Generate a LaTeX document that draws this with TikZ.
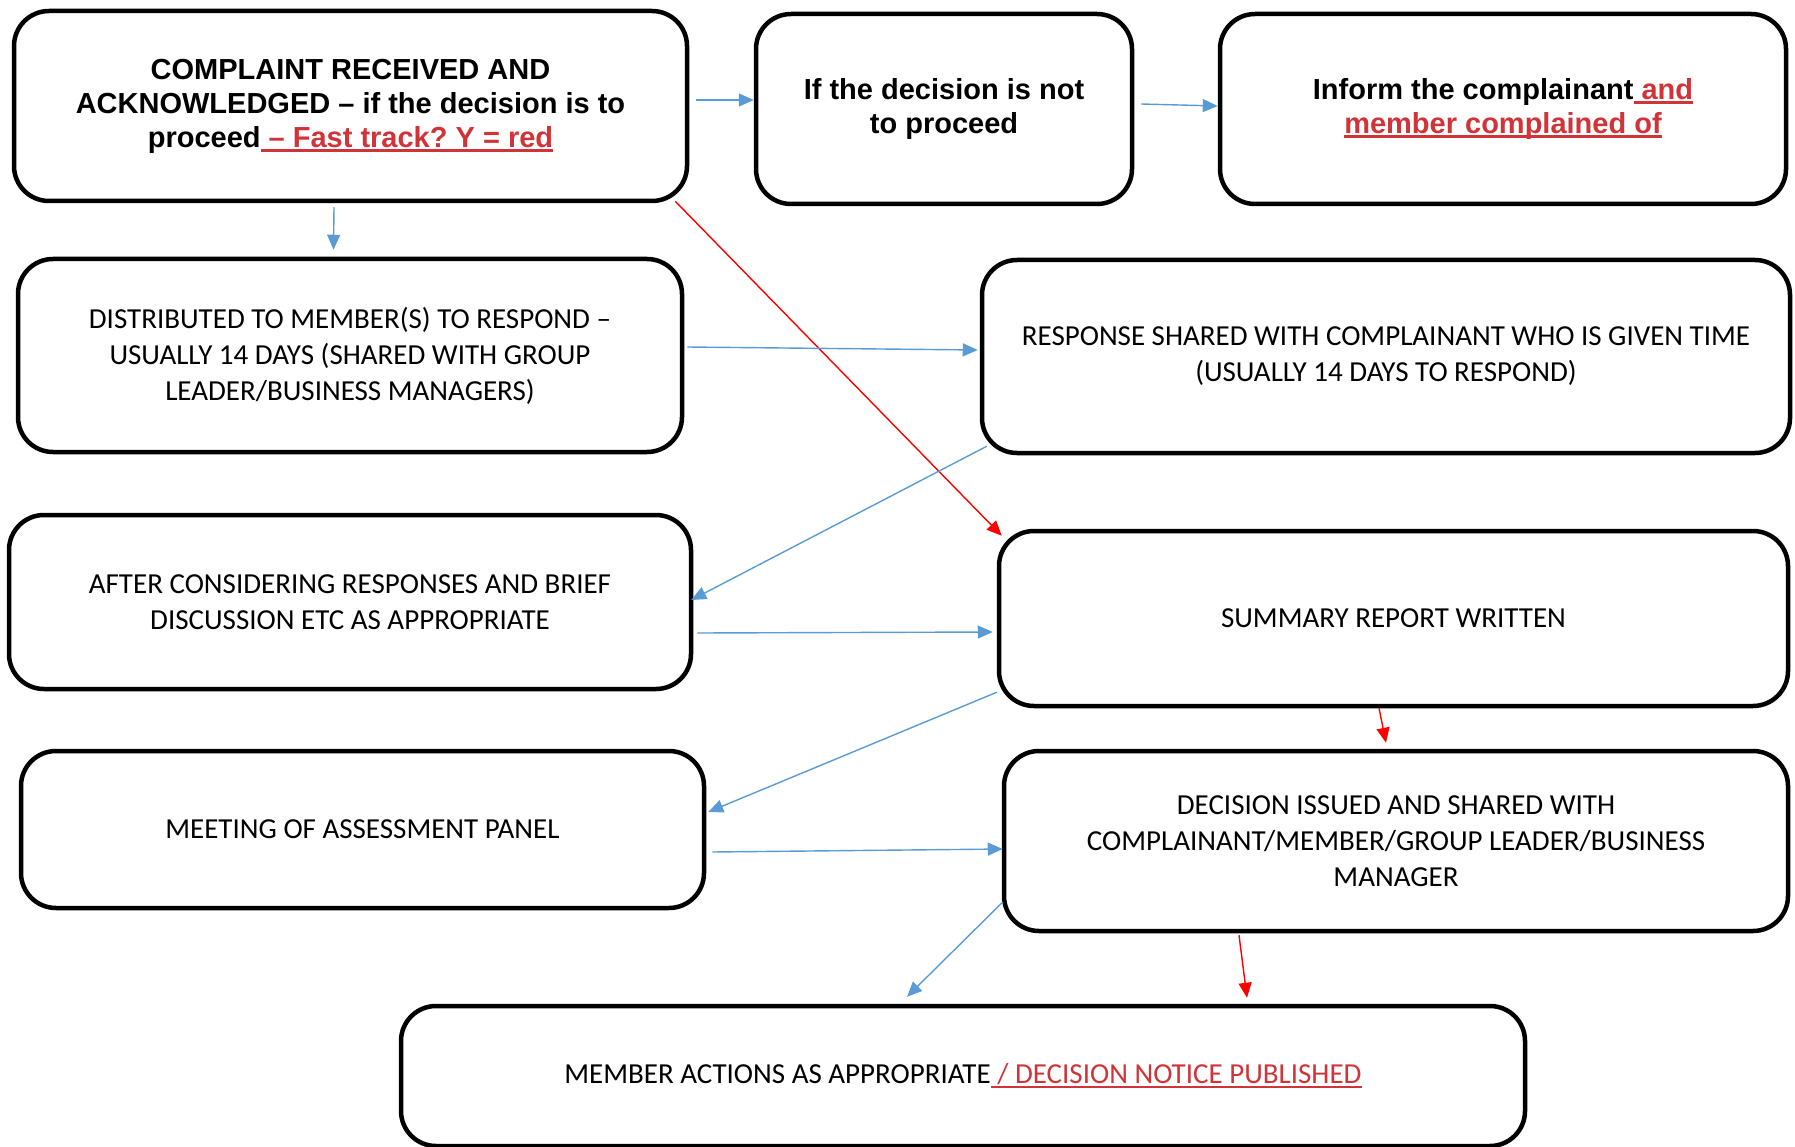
\documentclass[tikz,border=0pt]{standalone}
\usepackage{fontspec}
\setmainfont{Carlito}
\newfontfamily\arialb{Liberation Sans}[UprightFont=*-Bold]
\usetikzlibrary{arrows.meta}
\definecolor{ured}{RGB}{209,52,56}
\definecolor{ablue}{RGB}{91,155,213}
\definecolor{ared}{RGB}{255,0,0}
\frenchspacing
\newcommand\redulb[1]{\textcolor{ured}{\setbox0\hbox{#1}\rlap{\rule[-5pt]{\wd0}{3pt}}\box0}}
\newcommand\redulc[1]{\textcolor{ured}{\setbox0\hbox{#1}\rlap{\rule[-4.5pt]{\wd0}{2pt}}\box0}}
\tikzset{
  box/.style={draw, line width=4.5pt, rounded corners=35pt, fill=white, align=center, inner sep=0pt},
  boldtxt/.style={font=\arialb\fontsize{29}{34}\selectfont},
  plaintxt/.style={font=\fontsize{29}{36}\selectfont},
  barrow/.style={draw=ablue, line width=1.4pt, -{Triangle[length=15pt,width=13pt]}, fill=ablue},
  rarrow/.style={draw=ared, line width=1.4pt, -{Triangle[length=15pt,width=13pt]}, fill=ared},
}
\begin{document}
\begin{tikzpicture}[x=1pt,y=-1pt]
\useasboundingbox (0,0) rectangle (1795,1147);
\node[box, boldtxt, minimum width=673pt, minimum height=190pt] (A) at (350.5,106)
  {COMPLAINT RECEIVED AND\\ACKNOWLEDGED – if the decision is to\\proceed\redulb{ – Fast track? Y = red}};
\node[box, boldtxt, minimum width=376pt, minimum height=190pt] (B) at (944,109)
  {If the decision is not\\to proceed};
\node[box, boldtxt, minimum width=566pt, minimum height=190pt] (C) at (1503,109)
  {Inform the complainant\redulb{ and}\\\redulb{member complained of}};
\node[box, plaintxt, minimum width=664pt, minimum height=193pt] (D) at (350,355.5)
  {DISTRIBUTED TO MEMBER(S) TO RESPOND –\\USUALLY 14 DAYS (SHARED WITH GROUP\\LEADER/BUSINESS MANAGERS)};
\node[box, plaintxt, minimum width=808pt, minimum height=193pt] (E) at (1386,356.5)
  {RESPONSE SHARED WITH COMPLAINANT WHO IS GIVEN TIME\\(USUALLY 14 DAYS TO RESPOND)};
\node[box, plaintxt, minimum width=682pt, minimum height=174pt] (F) at (350,602)
  {AFTER CONSIDERING RESPONSES AND BRIEF\\DISCUSSION ETC AS APPROPRIATE};
\node[box, plaintxt, minimum width=789pt, minimum height=175pt] (G) at (1393.5,618.5)
  {SUMMARY REPORT WRITTEN};
\node[box, plaintxt, minimum width=683pt, minimum height=157pt] (H) at (362.5,829.5)
  {MEETING OF ASSESSMENT PANEL};
\node[box, plaintxt, minimum width=784pt, minimum height=180pt] (I) at (1396,841)
  {DECISION ISSUED AND SHARED WITH\\COMPLAINANT/MEMBER/GROUP LEADER/BUSINESS\\MANAGER};
\node[box, plaintxt, minimum width=1124pt, minimum height=140pt] (J) at (963,1076)
  {MEMBER ACTIONS AS APPROPRIATE\redulc{ / DECISION NOTICE PUBLISHED}};
% connectors
\draw[barrow] ([xshift=7pt,yshift=6pt]A.east) -- ([yshift=9pt]B.west);
\draw[barrow] ([xshift=7pt,yshift=5pt]B.east) -- ([yshift=3pt]C.west);
\draw[barrow] ([xshift=-16.5pt,yshift=-4pt]A.south) -- ([xshift=-16.5pt,yshift=7pt]D.north);
\draw[rarrow] ([xshift=-14pt,yshift=2pt]A.south east) -- ([xshift=5pt,yshift=-7pt]G.north west);
\draw[barrow] ([xshift=3pt,yshift=8.5pt]D.east) -- ([xshift=-2pt,yshift=6.5pt]E.west);
\draw[barrow] ([xshift=7pt,yshift=9pt]E.south west) -- ([xshift=-2pt,yshift=2pt]F.east);
\draw[barrow] ([xshift=4pt,yshift=-31pt]F.east) -- ([xshift=-4pt,yshift=-13.5pt]G.west);
\draw[barrow] ([yshift=16pt]G.south west) -- ([xshift=2pt,yshift=17.5pt]H.east);
\draw[rarrow] ([xshift=-14.5pt]G.south) -- ([xshift=-10pt,yshift=6pt]I.north);
\draw[barrow] ([xshift=6pt,yshift=-22.5pt]H.east) -- ([xshift=1pt,yshift=-8pt]I.west);
\draw[barrow] ([xshift=1pt,yshift=-61pt]I.west) -- ([xshift=-56pt,yshift=7pt]J.north);
\draw[rarrow] ([xshift=-157pt,yshift=-2pt]I.south) -- ([xshift=284pt,yshift=6pt]J.north);
\end{tikzpicture}
\end{document}
